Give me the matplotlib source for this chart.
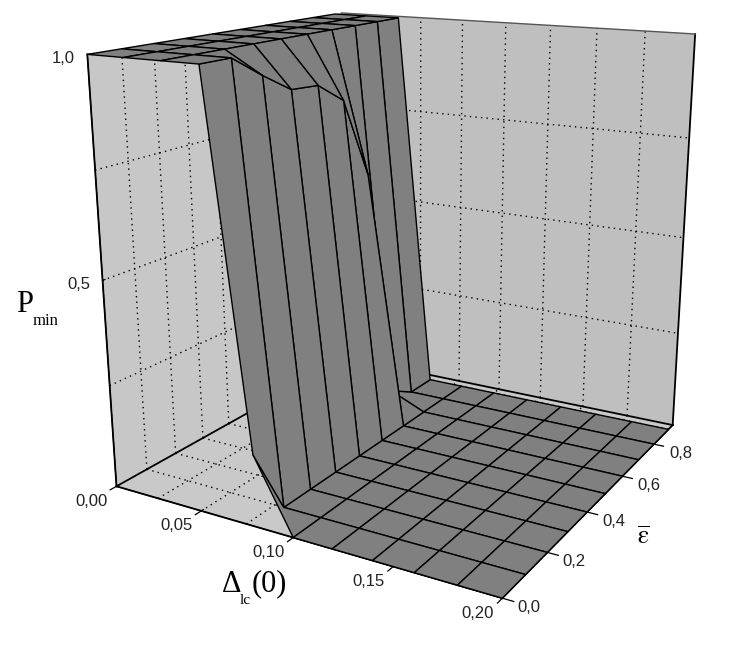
import numpy as np, matplotlib
matplotlib.use('Agg')
import matplotlib.pyplot as plt
from mpl_toolkits.mplot3d import proj3d

plt.rcParams['font.family'] = ['Liberation Sans', 'DejaVu Sans']
plt.rcParams['mathtext.fontset'] = 'stix'

# Surface data: P_min over Delta_lc(0) and mean epsilon
delta = [0, .02, .04, .06, .08, .10, .12, .14, .16, .18, .20]
eps = [0, .1, .2, .3, .4, .5, .6, .7, .8, .9]
p_plateau = [1] * len(eps)
p_006 = [1, 1, .95, .905, .90, .85, .65, .04, 0, 0]
p_008 = [.17, 0, 0, 0, 0, 0, 0, 0, 0, 0]
p_floor = [0] * len(eps)
p_min = [p_plateau, p_plateau, p_plateau, p_006, p_008,
         p_floor, p_floor, p_floor, p_floor, p_floor, p_floor]

x_ticks = [0, .05, .10, .15, .20]
x_labels = ['0,00', '0,05', '0,10', '0,15', '0,20']
y_ticks = [0, .2, .4, .6, .8]
y_labels = ['0,0', '0,2', '0,4', '0,6', '0,8']
z_ticks = [.5, 1]
z_labels = ['0,5', '1,0']
x_grid = [.025, .05, .075, .10, .125, .15, .175]
y_grid = [.1, .2, .3, .4, .5, .6, .7, .8, .9]
z_grid = [.25, .5, .75]
x_max, y_max, z_max = .20, .93, 1

fig = plt.figure(figsize=(7.39, 6.45), dpi=100, facecolor='white')
FOCAL = .26828
S, TX, TY = 1341.4 / FOCAL, 408.7, 387.1
L = S * .185
ax = fig.add_axes([(TX - S * .095) / 739, (TY - S * .095) / 645, L / 739, L / 645],
                  projection='3d', computed_zorder=False)
ax.patch.set_alpha(0)
ax.set_xlim(0, x_max); ax.set_ylim(0, y_max); ax.set_zlim(0, z_max)
ax.set_proj_type('persp', focal_length=FOCAL)
ax.view_init(elev=16.094, azim=-59.844, roll=.078)
ax.set_box_aspect((1, np.exp(-.009), np.exp(.003)), zoom=np.exp(1.056) * FOCAL)
ax.grid(False)

ax.xaxis.set_pane_color((.78, .78, .78, 1))
ax.yaxis.set_pane_color((.75, .75, .75, 1))
ax.zaxis.set_pane_color((.79, .79, .79, 1))
for a in (ax.xaxis, ax.yaxis, ax.zaxis):
    a.pane.set_edgecolor('none')
    a.line.set_color('k')
    a._axinfo['tick'].update(inward_factor=0, outward_factor=.1, color='k', linewidth={True: .8, False: .5})
ax.zaxis.set_ticks_position('lower')
ax.zaxis.set_label_position('lower')

ax.set_xticks(x_ticks, labels=[''] * len(x_ticks))
ax.set_yticks(y_ticks, labels=[''] * len(y_ticks))
ax.set_zticks(z_ticks, labels=[''] * len(z_ticks))


def tick_label(text, xs, ys, zs, dx, dy):
    u, v, _ = proj3d.proj_transform(xs, ys, zs, ax.get_proj())
    ax.annotate(text, xy=(u, v), xycoords='data', xytext=(dx, dy), textcoords='offset pixels',
                fontsize=12, color='#222222', ha='center', va='center',
                annotation_clip=False)


for v, s in zip(x_ticks, x_labels):
    tick_label(s, v, 0, 0, -25, -15)
for v, s in zip(y_ticks, y_labels):
    tick_label(s, x_max, v, 0, 27, -9)
for v, s in zip(z_ticks, z_labels):
    tick_label(s, 0, 0, v, -24, -4)


def line(xs, ys, zs, **kw):
    return ax.plot(xs, ys, zs, **kw)


dots = dict(color='k', lw=1, ls=(0, (1, 3)), zorder=1)
for v in x_grid:
    line([v, v], [y_max, y_max], [0, z_max], **dots)
    line([v, v], [0, y_max], [0, 0], **dots)
for v in y_grid:
    line([0, 0], [v, v], [0, z_max], **dots)
    line([0, x_max], [v, v], [0, 0], **dots)
for v in z_grid:
    line([0, 0], [0, y_max], [v, v], **dots)
    line([0, x_max], [y_max, y_max], [v, v], **dots)

solid = dict(color='k', lw=1.3, zorder=1.5)
line([0, x_max], [y_max, y_max], [0, 0], **solid)
line([0, 0], [0, y_max], [0, 0], **solid)
line([x_max, x_max], [y_max, y_max], [0, z_max], **solid)
line([0, 0], [0, 0], [0, z_max], **solid)
line([0, x_max], [0, 0], [0, 0], **solid)
line([x_max, x_max], [0, y_max], [0, 0], **solid)
line([0, x_max], [y_max, y_max], [z_max, z_max], color='#555555', lw=1, zorder=1.5)

tick_style = dict(color='k', lw=.9, zorder=1.5)
for v in x_ticks:
    line([v, v], [0, -.02], [0, 0], **tick_style)
for v in y_ticks:
    line([x_max, x_max + .005], [v, v], [0, 0], **tick_style)

X, Y = np.meshgrid(delta, eps, indexing='ij')
surf = ax.plot_surface(X, Y, np.array(p_min, dtype=float), color='#808080', edgecolor='k',
                       lw=1, shade=False, rstride=1, cstride=1, zorder=2)

serif = 'Liberation Serif'
fig.text(16 / 739, 1 - 305 / 645, 'P', family=serif, fontsize=22, color='k', va='center')
fig.text(33 / 739, 1 - 321 / 645, 'min', family=serif, fontsize=12, color='k', va='center')
fig.text(222 / 739, 1 - 585 / 645, 'Δ', family=serif, fontsize=22, color='k', va='center')
fig.text(240 / 739, 1 - 600 / 645, 'lc', family=serif, fontsize=11, color='k', va='center')
fig.text(252 / 739, 1 - 584 / 645, '(0)', family=serif, fontsize=22, color='k', va='center')
fig.text(643 / 739, 1 - 537 / 645, r'$\overline{\mathrm{\varepsilon}}$', fontsize=18, color='k', ha='center', va='center')
fig.savefig('out.png', dpi=100)
